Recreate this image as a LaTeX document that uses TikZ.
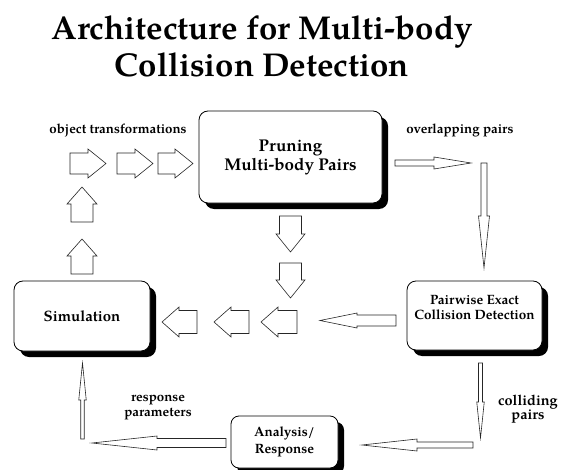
\documentclass[tikz,border=0pt]{standalone}
\usepackage{fontspec}
\setmainfont{TeX Gyre Pagella}
\usetikzlibrary{shadows}

\tikzset{
  stage/.style={draw, line width=0.8pt, rounded corners=9pt, fill=white,
    align=center, inner sep=0pt,
    drop shadow={shadow xshift=6pt, shadow yshift=-6pt, fill=black, opacity=1}},
  arrowline/.style={draw=black!85, line width=0.6pt, fill=white, line join=miter},
  % block arrow from its tail: length, shaft width, head width, head length
  pics/blockarrow/.style n args={4}{code={
    \draw[arrowline] (0,{-#2/2}) -- ({#1-#4},{-#2/2}) -- ({#1-#4},{-#3/2})
      -- (#1,0) -- ({#1-#4},{#3/2}) -- ({#1-#4},{#2/2}) -- (0,{#2/2}) -- cycle;
  }},
  tag/.style={font=\bfseries\fontsize{13.3}{15}\selectfont, align=center}
}

\begin{document}
\begin{tikzpicture}[x=1pt,y=-1pt]
\useasboundingbox (0,0) rectangle (561,470);

\node[font=\bfseries\fontsize{33}{37}\selectfont, align=center] (title) at (262,46)
  {Architecture for Multi-body\\Collision Detection};

% the four stages
\node[stage, minimum width=183pt, minimum height=92pt,
  font=\bfseries\fontsize{17}{19}\selectfont] (prune) at (290.5,157)
  {Pruning\\Multi-body Pairs};
\node[stage, minimum width=135pt, minimum height=69pt,
  label={[font=\bfseries\fontsize{13.5}{15.5}\selectfont, align=center, yshift=8pt]center:{Pairwise Exact\\Collision Detection}}]
  (exact) at (474.5,315.5) {};
\node[stage, minimum width=136pt, minimum height=70pt,
  font=\bfseries\fontsize{15}{17}\selectfont] (sim) at (82,316) {Simulation};
\node[stage, minimum width=107pt, minimum height=52pt, rounded corners=8pt,
  font=\bfseries\fontsize{13.5}{17}\selectfont] (resp) at (284.5,442)
  {Analysis/\\Response};

% block arrows between simulation and pruning
\foreach \n/\x/\l in {1/70/36, 2/117/36, 3/158/35}
  \pic (xf\n) at (\x,163.5) {blockarrow={\l}{21}{29}{18}};
\foreach \n/\y in {1/222, 2/274}
  \pic[rotate=90] (up\n) at (82,\y) {blockarrow={35}{22}{30}{17}};
\foreach \n/\y/\l in {1/216/36, 2/263/35}
  \pic[rotate=270] (dn\n) at (290.5,\y) {blockarrow={\l}{22}{29}{18}};
\foreach \n/\x/\l in {1/297/36, 2/249/35, 3/197/35}
  \pic[rotate=180] (lt\n) at (\x,322) {blockarrow={\l}{23}{30}{17}};

% slim arrows round the outer loop
\pic (ovlp) at (395,163) {blockarrow={76}{6}{12}{37}};
\pic[rotate=270] (ovlpdn) at (484,163) {blockarrow={105}{6}{11}{52}};
\pic[rotate=180] (exactlt) at (396,320.5) {blockarrow={76}{11}{15}{37}};
\pic[rotate=270] (colldn) at (480.5,363) {blockarrow={75}{4}{7.5}{36}};
\pic[rotate=180] (colllt) at (473,445) {blockarrow={111}{6}{12}{55}};
\pic[rotate=180] (resplt) at (226,443) {blockarrow={134}{9}{14}{65}};
\pic[rotate=90] (respup) at (82.5,439) {blockarrow={76}{3.5}{7.5}{37}};

% labels
\node[tag] (xflab) at (118,130) {object transformations};
\node[tag] (ovlab) at (460,130) {overlapping pairs};
\node[tag, font=\bfseries\fontsize{14.5}{14}\selectfont] (colab) at (528,409) {colliding\\pairs};
\node[tag] (rplab) at (158,408) {response\\parameters};
\end{tikzpicture}
\end{document}
